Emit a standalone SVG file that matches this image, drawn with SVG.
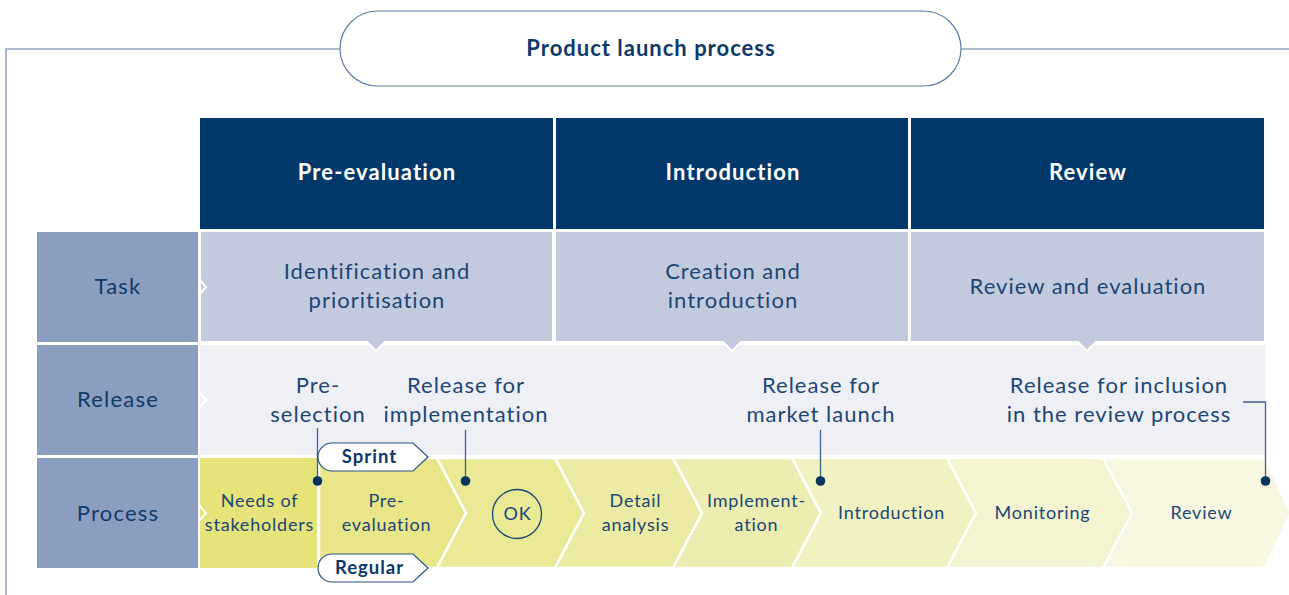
<svg xmlns="http://www.w3.org/2000/svg" width="1289" height="595" viewBox="0 0 1289 595">
  <style>
    text { font-family: "Lato", "Liberation Sans", sans-serif; fill: #1b4675; text-anchor: middle; }
    .title { font-size: 22px; font-weight: bold; fill: #0d3868; letter-spacing: 1px; }
    .head { font-size: 22px; font-weight: bold; fill: #ffffff; letter-spacing: 1.1px; }
    .lab { font-size: 22px; fill: #0f3a6a; letter-spacing: 1.2px; }
    .cell { font-size: 22px; letter-spacing: 1px; }
    .proc { font-size: 18px; letter-spacing: 0.8px; }
    .tag { font-size: 18.5px; font-weight: bold; fill: #0d3868; letter-spacing: 1px; }
    .hdr { fill: #02386a; }
    .label { fill: #8c9ebf; }
    .task { fill: #c4cadd; stroke: #ffffff; stroke-width: 2; }
    .rel { fill: #eff0f5; }
    .chev { stroke: #ffffff; stroke-width: 2.5; stroke-linejoin: miter; }
    .frame { fill: none; stroke: #93a6c2; stroke-width: 1.6; }
    .pill { fill: #ffffff; stroke: #5d7ca3; stroke-width: 1.2; }
    .conn { fill: none; stroke: #3f628c; stroke-width: 1.3; }
    .dot { fill: #05325f; }
    .tagbox { fill: #ffffff; stroke: #2a5384; stroke-width: 1.2; }
    .notch { fill: none; stroke: #ffffff; stroke-width: 2; }
  </style>

  <!-- outer frame and title pill -->
  <g id="frame">
    <polyline class="frame" points="6,595 6,49 340,49"/>
    <line class="frame" x1="961" y1="49" x2="1289" y2="49"/>
  </g>
  <g id="title">
    <rect class="pill" x="340" y="11" width="621" height="75" rx="37.5" ry="37.5"/>
    <text class="title" x="651" y="56">Product launch process</text>
  </g>

  <!-- phase headers -->
  <g id="header-pre-evaluation">
    <rect class="hdr" x="200" y="118" width="353" height="111"/>
    <text class="head" x="377" y="180">Pre-evaluation</text>
  </g>
  <g id="header-introduction">
    <rect class="hdr" x="556" y="118" width="352" height="111"/>
    <text class="head" x="733" y="180">Introduction</text>
  </g>
  <g id="header-review">
    <rect class="hdr" x="911" y="118" width="353" height="111"/>
    <text class="head" x="1088" y="180">Review</text>
  </g>

  <!-- row labels -->
  <g id="label-task">
    <rect class="label" x="37" y="232" width="161" height="110"/>
    <text class="lab" x="118" y="294">Task</text>
  </g>
  <g id="label-release">
    <rect class="label" x="37" y="345" width="161" height="110"/>
    <text class="lab" x="118" y="407">Release</text>
  </g>
  <g id="label-process">
    <rect class="label" x="37" y="458" width="161" height="110"/>
    <text class="lab" x="118" y="521">Process</text>
  </g>

  <!-- release row background -->
  <g id="release-row">
    <rect class="rel" x="200" y="345" width="1065" height="110"/>
  </g>

  <!-- task cells with downward tips -->
  <g id="task-identification">
    <path class="task" d="M200,231 H553 V342 H385 L376,351 L367,342 H200 Z"/>
    <text class="cell" x="377" y="279">Identification and</text>
    <text class="cell" x="377" y="308">prioritisation</text>
  </g>
  <g id="task-creation">
    <path class="task" d="M555,231 H909 V342 H741 L732,351 L723,342 H555 Z"/>
    <text class="cell" x="733" y="279">Creation and</text>
    <text class="cell" x="733" y="308">introduction</text>
  </g>
  <g id="task-review">
    <path class="task" d="M910,231 H1265 V342 H1096 L1087,351 L1078,342 H910 Z"/>
    <text class="cell" x="1088" y="294">Review and evaluation</text>
  </g>

  <!-- process chevrons -->
  <g id="proc-needs">
    <rect x="200" y="458" width="118" height="110" fill="#e6e37b"/>
    <line x1="318" y1="458" x2="318" y2="568" stroke="#ffffff" stroke-width="2"/>
    <text class="proc" x="259.5" y="507">Needs of</text>
    <text class="proc" x="259.5" y="531">stakeholders</text>
  </g>
  <g id="proc-pre-evaluation">
    <polygon class="chev" fill="#e8e688" points="319,458 437,458 466,513 437,568 319,568"/>
    <text class="proc" x="386.5" y="507">Pre-</text>
    <text class="proc" x="386.5" y="531">evaluation</text>
  </g>
  <g id="proc-ok">
    <polygon class="chev" fill="#eae995" points="437,458 555,458 584,513 555,568 437,568 466,513"/>
    <circle cx="517" cy="514" r="24.5" fill="none" stroke="#1b4675" stroke-width="1.3"/>
    <text class="proc" x="517.5" y="520">OK</text>
  </g>
  <g id="proc-detail">
    <polygon class="chev" fill="#eceba4" points="555,458 673,458 702,513 673,568 555,568 584,513"/>
    <text class="proc" x="635.5" y="507">Detail</text>
    <text class="proc" x="635.5" y="531">analysis</text>
  </g>
  <g id="proc-implementation">
    <polygon class="chev" fill="#eeedb1" points="673,458 792,458 821,513 792,568 673,568 702,513"/>
    <text class="proc" x="756.5" y="507">Implement-</text>
    <text class="proc" x="756.5" y="531">ation</text>
  </g>
  <g id="proc-introduction">
    <polygon class="chev" fill="#f2f1c1" points="792,458 947,458 976,513 947,568 792,568 821,513"/>
    <text class="proc" x="891.5" y="519">Introduction</text>
  </g>
  <g id="proc-monitoring">
    <polygon class="chev" fill="#f4f4d1" points="947,458 1103,458 1132,513 1103,568 947,568 976,513"/>
    <text class="proc" x="1042.5" y="519">Monitoring</text>
  </g>
  <g id="proc-review">
    <polygon class="chev" fill="#f8f8e2" points="1103,458 1265,458 1291,513 1265,568 1103,568 1132,513"/>
    <text class="proc" x="1201.5" y="519">Review</text>
  </g>

  <!-- label tips pointing into the rows -->
  <g id="label-tips">
    <polyline class="notch" points="199,279 206,287 199,295"/>
    <polyline class="notch" points="199,392 206,400 199,408"/>
    <polyline class="notch" points="199,505 206,513 199,521"/>
  </g>

  <!-- release texts -->
  <g id="release-preselection">
    <text class="cell" x="318" y="393">Pre-</text>
    <text class="cell" x="318" y="422">selection</text>
  </g>
  <g id="release-implementation">
    <text class="cell" x="466" y="393">Release for</text>
    <text class="cell" x="466" y="422">implementation</text>
  </g>
  <g id="release-market">
    <text class="cell" x="821" y="393">Release for</text>
    <text class="cell" x="821" y="422">market launch</text>
  </g>
  <g id="release-review">
    <text class="cell" x="1119" y="393">Release for inclusion</text>
    <text class="cell" x="1119" y="422">in the review process</text>
  </g>

  <!-- connectors from releases to process stages -->
  <g id="connectors">
    <line class="conn" x1="317.5" y1="428" x2="317.5" y2="480"/>
    <line class="conn" x1="465.5" y1="430" x2="465.5" y2="480"/>
    <line class="conn" x1="820.5" y1="430" x2="820.5" y2="480"/>
    <polyline class="conn" points="1243,402 1265.5,402 1265.5,481"/>
    <circle class="dot" cx="317.5" cy="481" r="4.8"/>
    <circle class="dot" cx="465.5" cy="481" r="4.8"/>
    <circle class="dot" cx="820.5" cy="481" r="4.8"/>
    <circle class="dot" cx="1265.5" cy="481" r="4.8"/>
  </g>

  <!-- track tags -->
  <g id="tag-sprint">
    <path class="tagbox" d="M332,443 H413 L428,457 L413,471 H332 A14,14 0 0 1 332,443 Z"/>
    <text class="tag" x="369.5" y="463">Sprint</text>
  </g>
  <g id="tag-regular">
    <path class="tagbox" d="M332,554 H413 L428,568 L413,582 H332 A14,14 0 0 1 332,554 Z"/>
    <text class="tag" x="369.5" y="574">Regular</text>
  </g>
</svg>
